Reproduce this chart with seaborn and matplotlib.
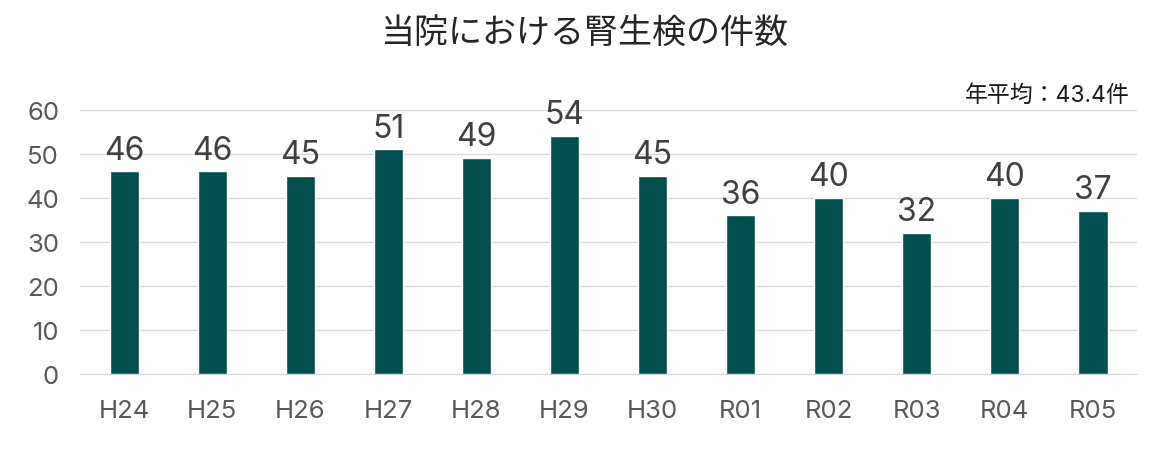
import matplotlib
matplotlib.use("Agg")
import matplotlib.pyplot as plt
import seaborn as sns
import pandas as pd

categories = ["H24", "H25", "H26", "H27", "H28", "H29", "H30", "R01", "R02", "R03", "R04", "R05"]
counts = [46, 46, 45, 51, 49, 54, 45, 36, 40, 32, 40, 37]
yticks = [0, 10, 20, 30, 40, 50, 60]
title = "当院における腎生検の件数"
note = "年平均：43.4件"

sns.set_style("white")
fam = ['Inter', 'Noto Sans CJK JP', 'DejaVu Sans']
plt.rcParams['font.family'] = fam

df = pd.DataFrame({"year": categories, "count": counts})

fig = plt.figure(figsize=(11.68, 4.56), dpi=100)
ax = fig.add_axes([0.0685, 0.178, 0.905, 0.579])

sns.barplot(data=df, x="year", y="count", color="#004F4F", width=0.33,
            saturation=1, ax=ax, zorder=3)

ax.set_ylim(0, 60)
ax.set_yticks(yticks)
ax.set_xlim(-0.5, len(categories) - 0.5)
ax.yaxis.grid(True, color="#d9d9d9", linewidth=1, zorder=0)
ax.set_axisbelow(True)
for s in ["top", "right", "left"]:
    ax.spines[s].set_visible(False)
ax.spines["bottom"].set_color("#d9d9d9")
ax.set_xlabel("")
ax.set_ylabel("")
ax.tick_params(axis="both", length=0, labelsize=18.5, colors="#595959")
ax.tick_params(axis="x", pad=18)
ax.tick_params(axis="y", pad=15)

for i, v in enumerate(counts):
    ax.text(i, v + 1.3, str(v), ha="center", va="bottom", fontsize=23,
            color="#404040", clip_on=False)

fig.text(0.5, 0.925, title, ha="center", va="center", fontsize=24.5, color="#262626",
         family=['Noto Sans CJK JP', 'DejaVu Sans'])
fig.text(0.967, 0.79, note, ha="right", va="center", fontsize=16.5, color="#1a1a1a")

fig.savefig("out.png", dpi=100)
